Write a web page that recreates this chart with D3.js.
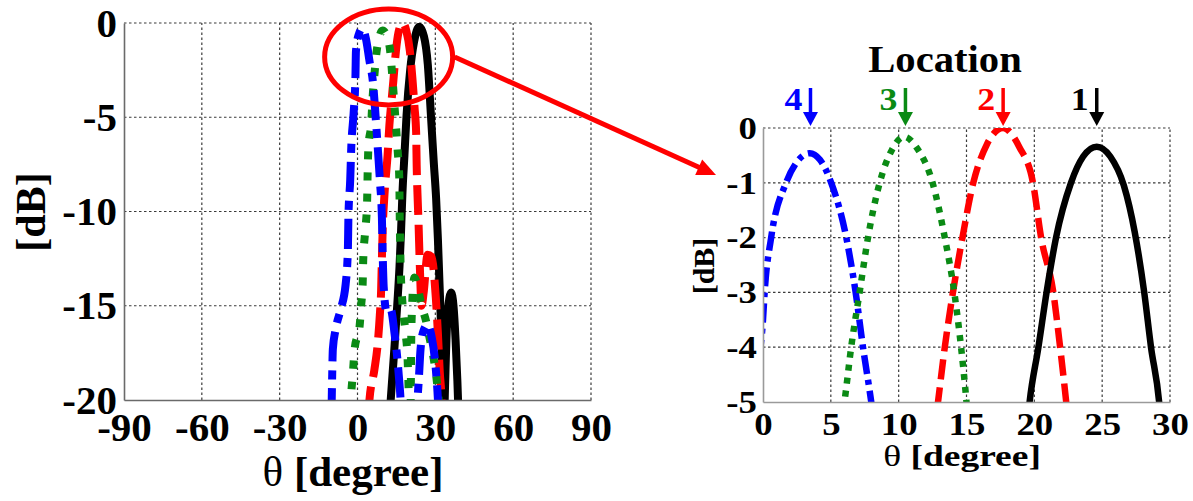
<!DOCTYPE html>
<html>
<head>
<meta charset="utf-8">
<script src="https://cdn.jsdelivr.net/npm/d3@7"></script>
<style>
  html, body { margin: 0; padding: 0; background: #fff; }
  svg { display: block; }
  text { font-family: "Liberation Serif", "Times New Roman", serif; font-weight: bold; fill: #000; }
</style>
</head>
<body>
<svg id="chart" width="1193" height="501"></svg>
<script>
// ---- tick values ----
const fullThetaTicks = [-90, -60, -30, 0, 30, 60, 90];
const fullDbTicks = [0, -5, -10, -15, -20];
const zoomThetaTicks = [0, 5, 10, 15, 20, 25, 30];
const zoomDbTicks = [0, -1, -2, -3, -4, -5];

// ---- location markers: label and beam peak direction (deg) ----
const locationNames = ["1", "2", "3", "4"];
const peakTheta = [24.6, 17.7, 10.5, 3.5];

// ---- full beam patterns over [-90, 90] deg: [theta, dB] ----
const fullLoc1 = [[10, -26], [12.8, -20], [14.2, -17.3], [15.3, -15], [16.2, -12.9], [16.8, -11], [17.3, -9.1],
  [18.1, -7], [18.9, -4.9], [20.3, -2.5], [21.8, -1], [23.8, -0.2], [25.6, -0.7], [27.1, -2.2], [28.3, -4.9],
  [29.4, -7.4], [30.3, -9.3], [31, -11.5], [31.6, -13.8], [32.3, -16.5], [32.8, -19], [33.2, -22], [33.7, -19.5],
  [34.5, -16], [35.4, -14.6], [36.1, -14.3], [37, -15], [37.8, -16.8], [38.5, -19], [39, -21], [40, -26]];
const fullLoc2 = [[3.2, -23], [4.6, -20], [6.5, -18.4], [7.8, -17], [8.6, -15.5], [9.1, -14.2], [9.4, -12.5],
  [9.7, -11], [10.4, -9.1], [11.6, -7], [12.3, -5.4], [13.2, -4], [13.8, -3.1], [14.8, -1.5], [15.8, -0.5],
  [17.3, 0], [18.8, -0.4], [20.2, -1.5], [21.2, -3], [22, -4.5], [22.6, -5.8], [22.8, -7.5], [23.1, -9],
  [23.5, -10.5], [24, -12.8], [24.7, -15], [25.5, -14.3], [27, -12.3], [28.5, -12.4], [30.2, -14.6],
  [31, -16.5], [31.7, -18.5], [32.4, -20], [33, -23]];
const fullLoc3 = [[-5, -25], [-2.6, -20], [-2.4, -19.6], [-1.8, -18.6], [-1.1, -17.3], [0.8, -16.1], [1.4, -15],
  [2, -13.8], [2.2, -12.6], [3, -11], [3.7, -9.5], [3.9, -8], [4.2, -6.6], [5.3, -5.3], [5.8, -4], [6.5, -2.8],
  [7.2, -1.7], [8.3, -0.8], [9.7, -0.4], [11.3, -0.7], [12.6, -1.5], [13.4, -2.8], [14.2, -4.3], [14.9, -5.6],
  [15.5, -6.8], [16.1, -8.2], [16.3, -10.5], [16.6, -12.8], [17.3, -14.8], [18.5, -16.4], [19.3, -17.8],
  [19.8, -20], [20.2, -23], [20.5, -20], [20.8, -16], [21.9, -13.5], [23.5, -14.2], [24.5, -14.9], [26.4, -15.8],
  [28.2, -17], [29.6, -18], [30.8, -19.3], [31.8, -21], [33, -25]];
const fullLoc4 = [[-10.5, -24], [-10, -20.5], [-9.8, -19], [-9.5, -17.3], [-8.5, -16.3], [-6.5, -15.2],
  [-4.6, -13.9], [-3.7, -12], [-3.5, -10.3], [-2.8, -8.3], [-2.4, -6.6], [-1.5, -4.8], [-0.8, -2.9],
  [-0.6, -1.5], [0.5, -0.6], [1.8, -0.3], [3.2, -0.8], [4.6, -2], [6, -3.2], [7, -5], [7.8, -6.6], [8.7, -8.5],
  [9.4, -10.3], [9.7, -12.2], [10.1, -14], [11.2, -15.3], [12.8, -15.2], [14.3, -16.5], [15.8, -18.5],
  [16.8, -20.5], [17.5, -23], [19, -26], [22.5, -21], [23.6, -19], [24.3, -17.3], [25.5, -16.3], [27, -16],
  [28.5, -16.6], [29.8, -17.8], [30.8, -19.5], [31.6, -21.5], [33, -26]];

// ---- main-lobe detail over [0, 30] deg: [theta, dB] ----
const zoomLoc1 = [[19.4, -5.6], [19.65, -5], [20.3, -4], [20.9, -3], [21.6, -2], [22.7, -1], [23.6, -0.52],
  [24.6, -0.34], [25.6, -0.52], [26.6, -1.05], [27.4, -1.9], [28.1, -3], [28.6, -4], [29.2, -5], [29.4, -5.6]];
const zoomLoc2 = [[12.6, -5.6], [12.9, -5], [13.4, -4], [14, -3], [14.7, -2], [15.5, -1], [16.5, -0.3],
  [17.7, 0], [18.9, -0.35], [19.9, -1], [20.5, -2], [21.4, -3], [21.9, -4], [22.35, -5], [22.6, -5.6]];
const zoomLoc3 = [[5.6, -5.6], [6, -5], [6.5, -4], [7.12, -3], [7.74, -2], [8.6, -1], [9.5, -0.4],
  [10.4, -0.16], [11.3, -0.35], [12.5, -1], [13.4, -2], [14.1, -3], [14.6, -4], [15, -5], [15.2, -5.6]];
const zoomLoc4 = [[-0.3, -4.2], [0, -3.5], [0.12, -3], [0.6, -2], [1.7, -1], [2.5, -0.62], [3.44, -0.46],
  [4.2, -0.58], [5.03, -1], [6.14, -2], [6.83, -3], [7.37, -4], [7.98, -5], [8.3, -5.6]];

// ---- drawing ----
const svg = d3.select("#chart");
const FONT = '"Liberation Serif", "Times New Roman", serif';

const seriesStyle = [
  { color: "#000000", dashFull: null, dashZoom: null },
  { color: "#ff0000", dashFull: "30,10", dashZoom: "20,8" },
  { color: "#0a8a14", dashFull: "8,13", dashZoom: "6,7" },
  { color: "#0000ff", dashFull: "30,9,9,9", dashZoom: "19,6,5,6" }
];

function drawPanel(cfg) {
  const { x, y, xTicks, yTicks, curves, order, width, dashKey, fontSize, xPad, yPad, id, stretch } = cfg;
  const [x0, x1] = x.range();
  const [y0, y1] = y.range(); // y0 bottom, y1 top
  const g = svg.append("g");

  // dotted grid
  const grid = g.append("g").attr("stroke", "#3a3a3a").attr("stroke-width", 1.2)
    .attr("stroke-dasharray", "2.5,2.5");
  grid.selectAll("line.v").data(xTicks.slice(1)).join("line")
    .attr("x1", d => x(d)).attr("x2", d => x(d)).attr("y1", y0).attr("y2", y1);
  grid.selectAll("line.h").data(yTicks.filter(d => d !== y.domain()[0])).join("line")
    .attr("x1", x0).attr("x2", x1).attr("y1", d => y(d)).attr("y2", d => y(d));

  // clipped beam curves
  g.append("clipPath").attr("id", id).append("rect")
    .attr("x", x0).attr("y", y1).attr("width", x1 - x0).attr("height", y0 - y1);
  const line = d3.line().x(d => x(d[0])).y(d => y(d[1])).curve(d3.curveMonotoneX);
  const cg = g.append("g").attr("clip-path", `url(#${id})`);
  order.forEach(i => {
    const s = seriesStyle[i];
    cg.append("path").datum(curves[i])
      .attr("fill", "none").attr("stroke", s.color).attr("stroke-width", width)
      .attr("stroke-linejoin", "round")
      .attr("stroke-dasharray", s[dashKey])
      .attr("d", line);
  });

  // axes
  const ax = g.append("g").attr("transform", `translate(0,${y0})`)
    .call(d3.axisBottom(x).tickValues(xTicks).tickSize(0).tickSizeOuter(0).tickPadding(xPad)
      .tickFormat(d => String(d)));
  const ay = g.append("g").attr("transform", `translate(${x0},0)`)
    .call(d3.axisLeft(y).tickValues(yTicks).tickSize(0).tickSizeOuter(0).tickPadding(yPad)
      .tickFormat(d => String(d)));
  [ax, ay].forEach(a => {
    a.attr("font-size", fontSize).attr("font-family", FONT).attr("font-weight", "bold");
    a.select(".domain").attr("stroke", cfg.axisColor).attr("stroke-width", 1.6);
    a.selectAll("text").attr("fill", "#000").attr("transform", `scale(${stretch},1)`);
  });
  ay.selectAll("text").attr("x", -yPad / stretch);
  return g;
}

// full-range panel
const fx = d3.scaleLinear().domain([-90, 90]).range([124, 591]);
const fy = d3.scaleLinear().domain([-20, 0]).range([400, 23]);
drawPanel({
  id: "clipFull", x: fx, y: fy, xTicks: fullThetaTicks, yTicks: fullDbTicks,
  curves: [fullLoc1, fullLoc2, fullLoc3, fullLoc4], order: [0, 1, 2, 3],
  width: 8, dashKey: "dashFull", fontSize: 41, xPad: 12, yPad: 7, axisColor: "#6a6a6a", stretch: 1
});

// zoomed panel
const zx = d3.scaleLinear().domain([0, 30]).range([763, 1170]);
const zy = d3.scaleLinear().domain([-5, 0]).range([402, 128]);
drawPanel({
  id: "clipZoom", x: zx, y: zy, xTicks: zoomThetaTicks, yTicks: zoomDbTicks,
  curves: [zoomLoc1, zoomLoc2, zoomLoc3, zoomLoc4], order: [3, 1, 2, 0],
  width: 6.5, dashKey: "dashZoom", fontSize: 32, xPad: 10, yPad: 6, axisColor: "#9a9a9a", stretch: 1.15
});

// axis titles
function title(x, y, size, sx, rotate) {
  return svg.append("text").attr("font-size", size).attr("text-anchor", "middle")
    .attr("transform", `translate(${x},${y})` + (rotate ? " rotate(-90)" : ` scale(${sx},1)`));
}
const t1 = title(353, 486, 43, 1, false);
t1.append("tspan").attr("font-weight", "normal").text("θ");
t1.append("tspan").text(" [degree]");
title(45, 212, 42, 1, true).text("[dB]");
const t2 = title(962, 466, 30, 1.25, false);
t2.append("tspan").attr("font-weight", "normal").text("θ");
t2.append("tspan").text(" [degree]");
title(714, 266, 30, 1, true).text("[dB]");
title(945, 72, 38, 1.07, false).text("Location");

// location arrows above the zoomed panel
locationNames.forEach((name, i) => {
  const cx = zx(peakTheta[i]);
  const col = seriesStyle[i].color;
  svg.append("text").attr("text-anchor", "end")
    .attr("transform", `translate(${cx - 8},110) scale(1.12,1)`)
    .attr("font-size", 32).style("fill", col).text(name);
  svg.append("line").attr("x1", cx).attr("x2", cx).attr("y1", 88).attr("y2", 114)
    .attr("stroke", col).attr("stroke-width", 3.5);
  svg.append("path").attr("d", `M${cx - 7.5},112 L${cx + 7.5},112 L${cx},126 Z`).attr("fill", col);
});

// red callout: ellipse around the main lobes and arrow to the zoomed panel
const ecx = fx(12), ecy = fy(-1.8);
svg.append("ellipse").attr("cx", ecx).attr("cy", ecy).attr("rx", 64).attr("ry", 48)
  .attr("fill", "none").attr("stroke", "#ff0000").attr("stroke-width", 5);
const a0 = [ecx + 66, ecy], tip = [716, 175];
const dx = tip[0] - a0[0], dy = tip[1] - a0[1], len = Math.hypot(dx, dy);
const ux = dx / len, uy = dy / len, hl = 19, hw = 8.5;
const bx = tip[0] - ux * hl, by = tip[1] - uy * hl;
svg.append("line").attr("x1", a0[0]).attr("y1", a0[1]).attr("x2", bx + ux * 2).attr("y2", by + uy * 2)
  .attr("stroke", "#ff0000").attr("stroke-width", 5);
svg.append("path")
  .attr("d", `M${tip[0]},${tip[1]} L${bx - uy * hw},${by + ux * hw} L${bx + uy * hw},${by - ux * hw} Z`)
  .attr("fill", "#ff0000");
</script>
</body>
</html>
